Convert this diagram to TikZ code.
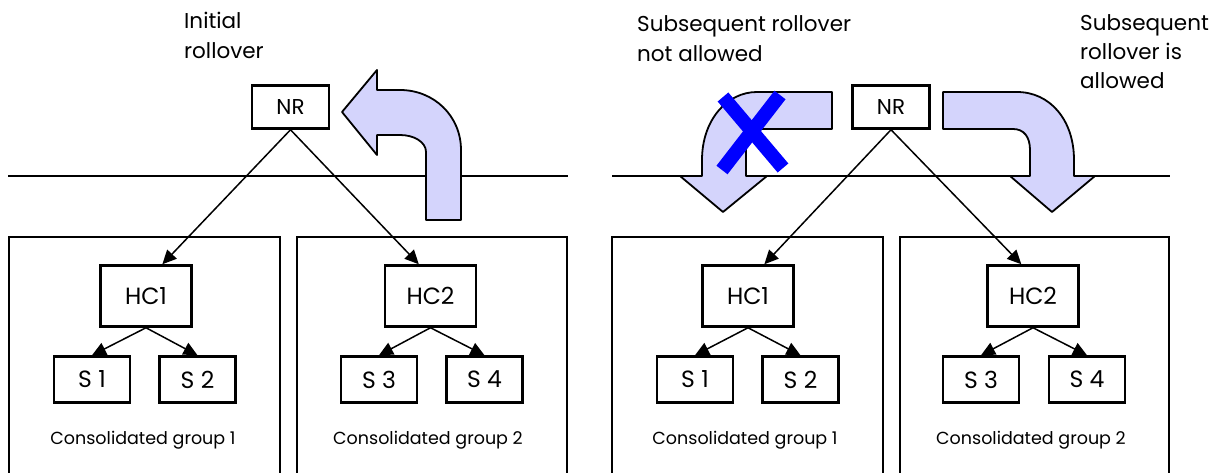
\documentclass[tikz,border=0pt]{standalone}
\usepackage{fontspec}
\setmainfont{Poppins}
\usetikzlibrary{arrows.meta,calc}
\definecolor{lav}{RGB}{212,212,252}
\definecolor{xblue}{RGB}{0,0,255}
\tikzset{
  box/.style={draw, line width=2.5pt, inner sep=0pt, font=\fontsize{23.5}{23.5}\selectfont},
  nrbox/.style={box, minimum width=77pt, minimum height=43pt, font=\fontsize{21.5}{21.5}\selectfont},
  hcbox/.style={box, minimum width=91pt, minimum height=61pt},
  sbox/.style={box, minimum width=76pt, minimum height=46pt},
  grp/.style={draw, line width=2.5pt},
  conn/.style={line width=1.5pt, -{Triangle[length=14pt,width=13pt]}},
  lbl/.style={anchor=base west, inner sep=0pt, font=\fontsize{21.5}{21.5}\selectfont},
  glbl/.style={inner sep=0pt, font=\fontsize{17.5}{17.5}\selectfont},
  bigarrow/.style={draw, line width=1.8pt, fill=lav, line join=round},
  sep/.style={line width=2.3pt}
}
\begin{document}
\begin{tikzpicture}[x=1pt,y=-1pt]
\useasboundingbox (0,0) rectangle (1221,473);
% separator lines
\draw[sep] (8,176) -- (568,176);
\draw[sep] (612,176) -- (1170,176);
% ---------- left panel
\draw[grp] (9,473) -- (9,237) -- (280,237) -- (280,473);
\draw[grp] (297,473) -- (297,237) -- (567,237) -- (567,473);
\node[nrbox] (NRa) at (290.5,107) {NR};
\node[hcbox] (HC1a) at (146,296) {HC1};
\node[sbox] (S1a) at (92,379.5) {S 1};
\node[sbox] (S2a) at (197.5,379.5) {S 2};
\node[hcbox] (HC2a) at (430.5,296) {HC2};
\node[sbox] (S3a) at (379,379.5) {S 3};
\node[sbox] (S4a) at (484.5,379.5) {S 4};
\node[glbl] (G1a) at (143,440) {Consolidated group 1};
\node[glbl] (G2a) at (428,440) {Consolidated group 2};
\draw[conn] (NRa.south) -- ($(HC1a.north)!0.35!(HC1a.north east)$);
\draw[conn] (NRa.south) -- ($(HC2a.north)!0.25!(HC2a.north west)$);
\draw[conn] (HC1a.south) -- (S1a.north);
\draw[conn] (HC1a.south) -- (S2a.north);
\draw[conn] (HC2a.south) -- (S3a.north);
\draw[conn] (HC2a.south) -- (S4a.north);
\node[lbl] (L1) at (184,29) {Initial};
\node[lbl] (L2) at (184,59) {rollover};
\draw[bigarrow] (426,220) -- (426,152) .. controls (426,142) and (414,135) .. (400,135)
  -- (377,135) -- (377,155) -- (342,112) -- (377,70) -- (377,90) -- (400,90)
  .. controls (434,90) and (461,116) .. (461,150) -- (461,220) -- cycle;
% ---------- right panel
\draw[grp] (612,473) -- (612,237) -- (883,237) -- (883,473);
\draw[grp] (900,473) -- (900,237) -- (1169,237) -- (1169,473);
\node[nrbox] (NRb) at (891,107) {NR};
\node[hcbox] (HC1b) at (748,296) {HC1};
\node[sbox] (S1b) at (695,379.5) {S 1};
\node[sbox] (S2b) at (800.5,379.5) {S 2};
\node[hcbox] (HC2b) at (1033,296) {HC2};
\node[sbox] (S3b) at (981,379.5) {S 3};
\node[sbox] (S4b) at (1087,379.5) {S 4};
\node[glbl] (G1b) at (745,440) {Consolidated group 1};
\node[glbl] (G2b) at (1031,440) {Consolidated group 2};
\draw[conn] (NRb.south) -- ($(HC1b.north)!0.35!(HC1b.north east)$);
\draw[conn] (NRb.south) -- ($(HC2b.north)!0.25!(HC2b.north west)$);
\draw[conn] (HC1b.south) -- (S1b.north);
\draw[conn] (HC1b.south) -- (S2b.north);
\draw[conn] (HC2b.south) -- (S3b.north);
\draw[conn] (HC2b.south) -- (S4b.north);
\node[lbl] (L3) at (637,32) {Subsequent rollover};
\node[lbl] (L4) at (637,62) {not allowed};
\node[lbl] (L5) at (1080,31) {Subsequent};
\node[lbl] (L6) at (1080,60) {rollover is};
\node[lbl] (L7) at (1080,89) {allowed};
\draw[bigarrow] (832,92) -- (757,92) .. controls (727,92) and (702,120) .. (702,160)
  -- (702,176) -- (680,176) -- (723,212) -- (767,176) -- (746,176) -- (746,150)
  .. controls (746,137) and (752,129) .. (763,129) -- (832,129) -- cycle;
\draw[xblue, line width=14pt] (723,97) -- (783,168);
\draw[xblue, line width=14pt] (780,95) -- (722,170);
\draw[bigarrow] (943,92) -- (1017,92) .. controls (1050,92) and (1074,120) .. (1074,160)
  -- (1074,176) -- (1095,176) -- (1052,212) -- (1010,176) -- (1030,176) -- (1030,150)
  .. controls (1030,137) and (1024,129) .. (1013,129) -- (943,129) -- cycle;
\end{tikzpicture}
\end{document}
